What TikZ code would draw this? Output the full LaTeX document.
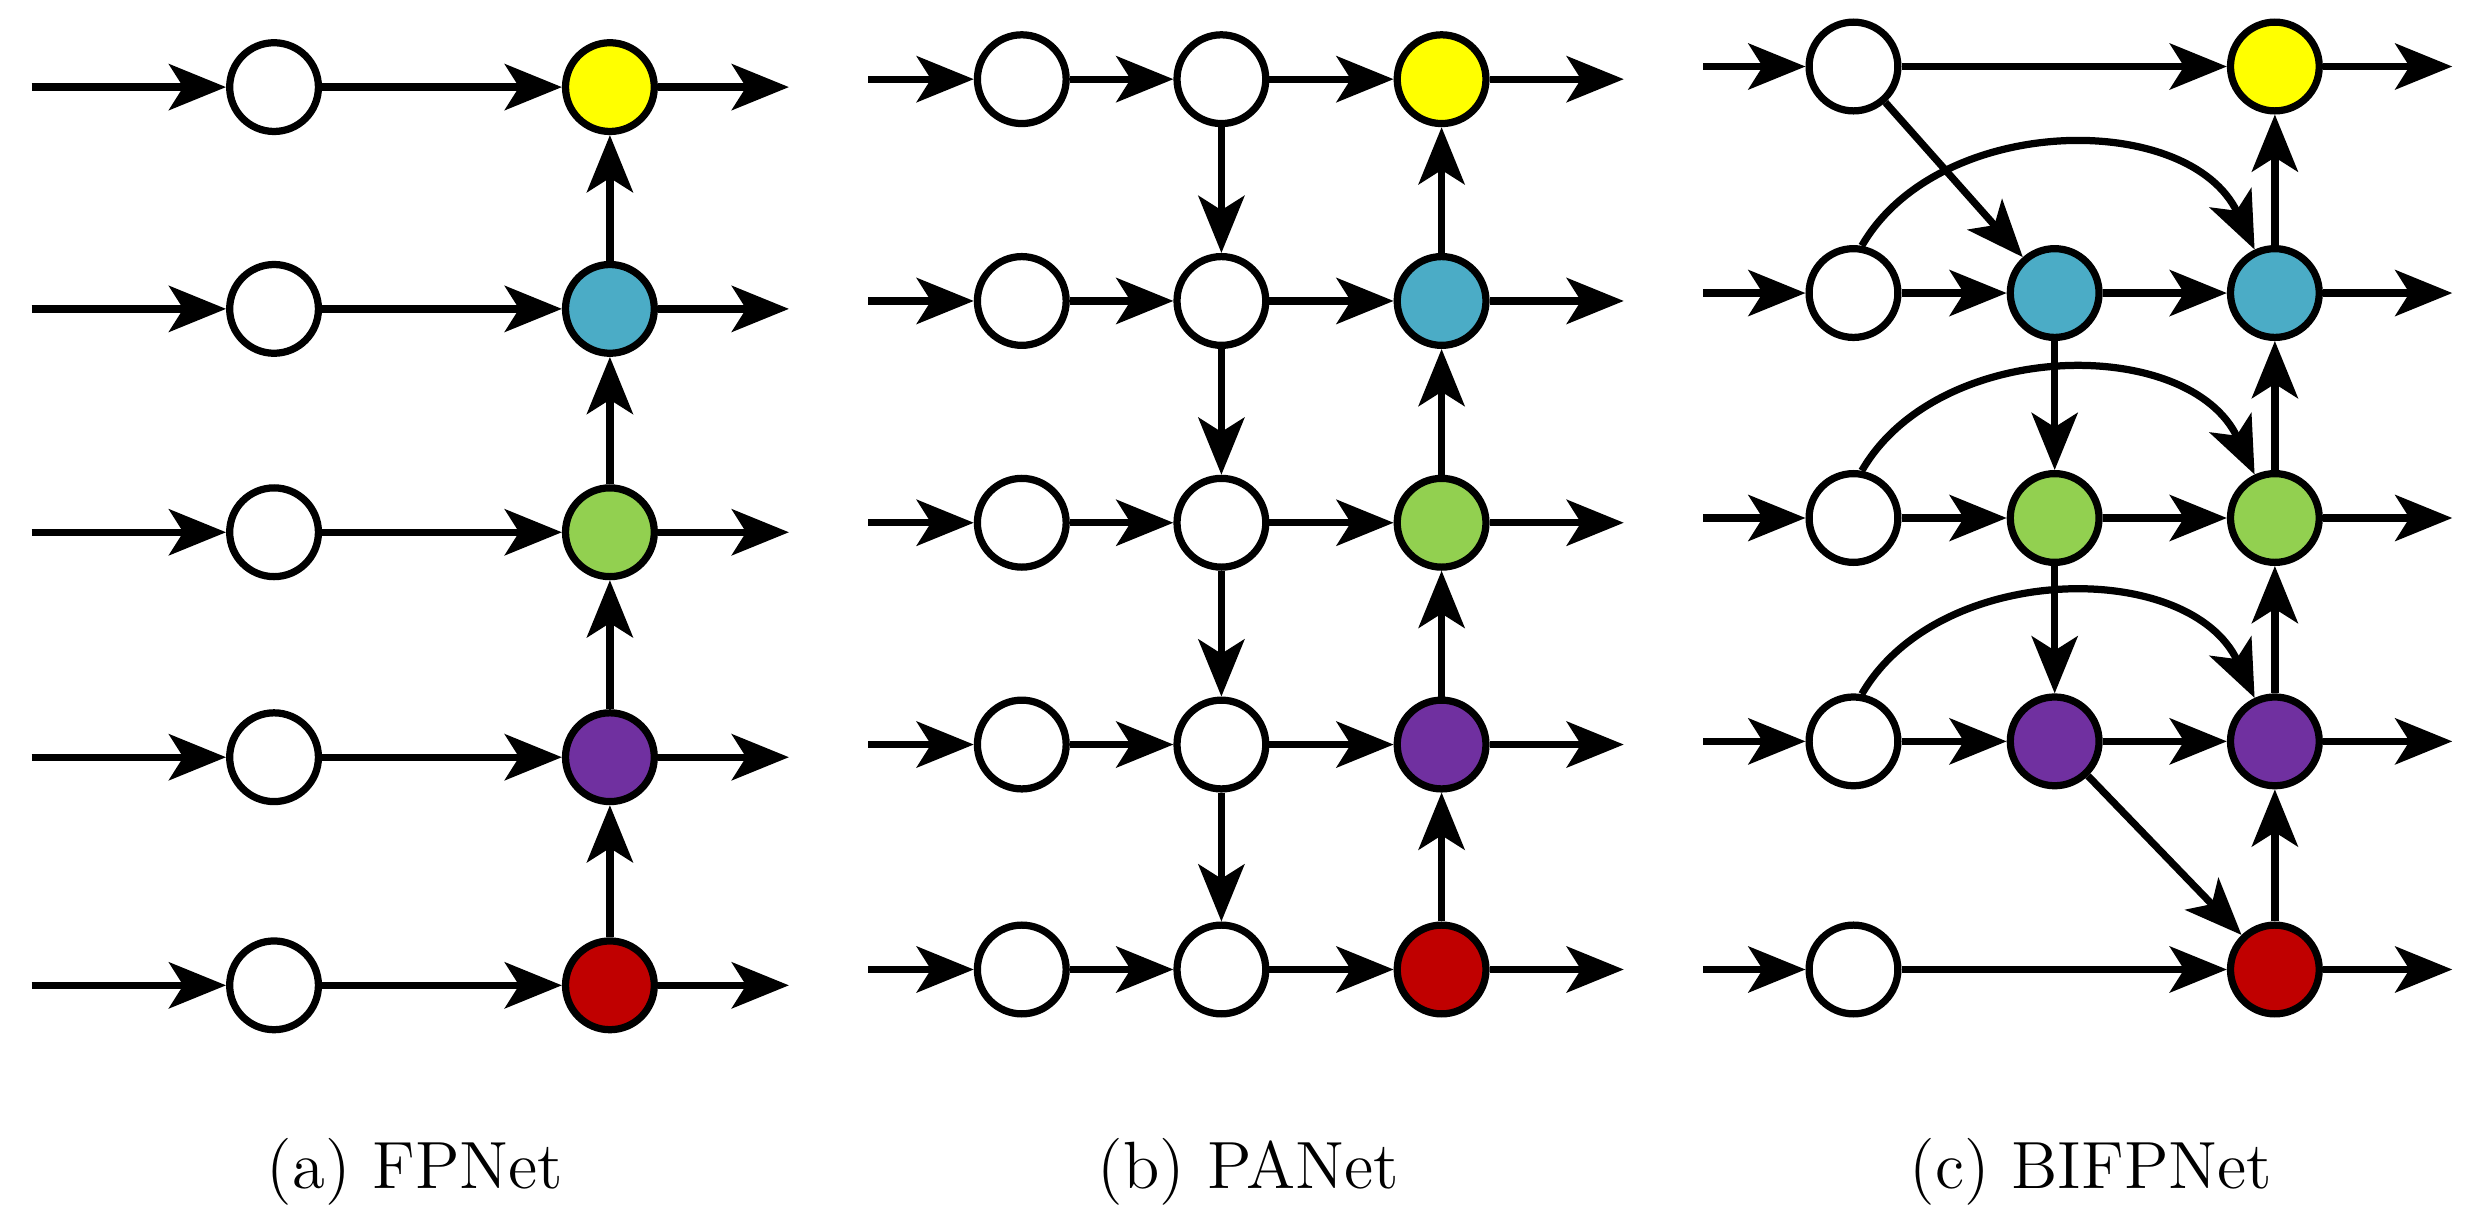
\documentclass[tikz,border=0pt]{standalone}
\usepackage{mathpazo}
\usetikzlibrary{arrows.meta}
\definecolor{cy}{HTML}{FFFF00}
\definecolor{cb}{HTML}{4BACC6}
\definecolor{cg}{HTML}{92D050}
\definecolor{cp}{HTML}{7030A0}
\definecolor{cr}{HTML}{C00000}
\begin{document}
\begin{tikzpicture}[x=0.01cm,y=-0.01cm,
  nd/.style={circle,draw,line width=1.3pt,minimum size=5.6mm,inner sep=0pt,fill=white},
  ar/.style={line width=1.3pt,-{Stealth[length=3.6mm,width=2.9mm,inset=0.9mm]}},
  lab/.style={font=\fontsize{12}{14}\selectfont}]
\useasboundingbox (0,0) rectangle (1568,771);
\def\cols{{"cy","cb","cg","cp","cr"}}
% ---------- (a)
\foreach \i/\y/\c in {1/55/cy,2/195/cb,3/336/cg,4/478/cp,5/622/cr}{
  \coordinate (as\i) at (20,\y);
  \node[nd] (a1\i) at (173,\y) {};
  \node[nd,fill=\c] (a2\i) at (385,\y) {};
  \coordinate (ae\i) at (498,\y);
  \draw[ar] (as\i) -- (a1\i);
  \draw[ar] (a1\i) -- (a2\i);
  \draw[ar] (a2\i) -- (ae\i);
}
\foreach \i/\j in {2/1,3/2,4/3,5/4} \draw[ar] (a2\i) -- (a2\j);
% ---------- (b)
\foreach \i/\y/\c in {1/50/cy,2/190/cb,3/330/cg,4/470/cp,5/612/cr}{
  \coordinate (bs\i) at (548,\y);
  \node[nd] (b1\i) at (645,\y) {};
  \node[nd] (b2\i) at (771,\y) {};
  \node[nd,fill=\c] (b3\i) at (910,\y) {};
  \coordinate (be\i) at (1025,\y);
  \draw[ar] (bs\i) -- (b1\i);
  \draw[ar] (b1\i) -- (b2\i);
  \draw[ar] (b2\i) -- (b3\i);
  \draw[ar] (b3\i) -- (be\i);
}
\foreach \i/\j in {2/1,3/2,4/3,5/4} {\draw[ar] (b3\i) -- (b3\j); \draw[ar] (b2\j) -- (b2\i);}
% ---------- (c)
\foreach \i/\y/\c in {1/42/cy,2/185/cb,3/327/cg,4/468/cp,5/612/cr}{
  \coordinate (cs\i) at (1075,\y);
  \node[nd] (c1\i) at (1170,\y) {};
  \node[nd,fill=\c] (c3\i) at (1436,\y) {};
  \coordinate (ce\i) at (1548,\y);
  \draw[ar] (cs\i) -- (c1\i);
  \draw[ar] (c3\i) -- (ce\i);
}
\foreach \i/\c in {2/cb,3/cg,4/cp}{
  \node[nd,fill=\c] (c2\i) at (1297,{\i==2?185:(\i==3?327:468)}) {};
  \draw[ar] (c1\i) -- (c2\i);
  \draw[ar] (c2\i) -- (c3\i);
  \draw[ar] (c1\i.80) to[out=60,in=115] (c3\i.115);
}
\draw[ar] (c11) -- (c31);
\draw[ar] (c15) -- (c35);
\draw[ar] (c11) -- (c22);
\draw[ar] (c22) -- (c23);
\draw[ar] (c23) -- (c24);
\draw[ar] (c24) -- (c35);
\foreach \i/\j in {2/1,3/2,4/3,5/4} \draw[ar] (c3\i) -- (c3\j);
% ---------- labels
\node[lab] (la) at (262,740) {(\textbf{a}) FPNet};
\node[lab] (lb) at (788,740) {(\textbf{b}) PANet};
\node[lab] (lc) at (1320,740) {(\textbf{c}) BIFPNet};
\end{tikzpicture}
\end{document}
